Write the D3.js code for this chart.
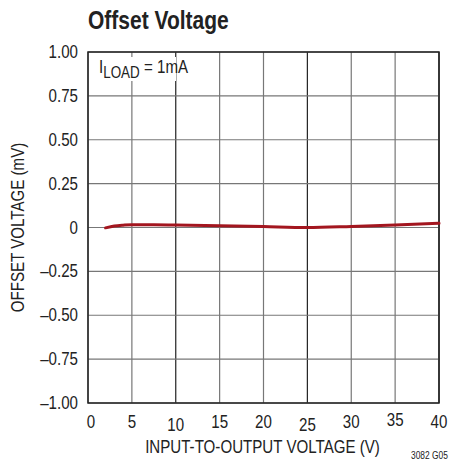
<!DOCTYPE html>
<html>
<head>
<meta charset="utf-8">
<script src="https://cdn.jsdelivr.net/npm/d3@7"></script>
<style>
  body { margin: 0; background: #fff; }
  svg text { font-family: "Liberation Sans", Arial, sans-serif; fill: #222; }
</style>
</head>
<body>
<div id="graphe"></div>
<script>
// données
var tensions = [2, 3, 4, 5, 7.5, 10, 15, 20, 25, 30, 35, 40];
var offsets  = [-0.002, 0.008, 0.013, 0.016, 0.016, 0.014, 0.010, 0.005, 0.0, 0.006, 0.014, 0.024];

var ticksX = [0, 5, 10, 15, 20, 25, 30, 35, 40];
var ticksY = [1, 0.75, 0.5, 0.25, 0, -0.25, -0.5, -0.75, -1];
var labelsY = ["1.00", "0.75", "0.50", "0.25", "0", "\u20130.25", "\u20130.50", "\u20130.75", "\u20131.00"];
// petit décalage vertical des étiquettes, comme sur l'original
var decalX = [0, 0, 3, 0, 0, 3, 0, -2, 0];

var largeurSvg = 452, hauteurSvg = 467;
var marges = {haut: 52, droite: 13, bas: 64, gauche: 88};
var largeur = largeurSvg - marges.gauche - marges.droite,
    hauteur = hauteurSvg - marges.haut - marges.bas;
var etroit = 0.84; // écrasement horizontal du texte (police condensée)

var svg = d3.select("#graphe").append("svg")
    .attr("width", largeurSvg)
    .attr("height", hauteurSvg);

var g = svg.append("g")
    .attr("transform", "translate(" + marges.gauche + "," + marges.haut + ")");

var x = d3.scaleLinear().domain([0, 40]).range([0, largeur]);
var y = d3.scaleLinear().domain([-1, 1]).range([hauteur, 0]);

// place un texte condensé en (px, py)
function place(px, py, rot) {
    return "translate(" + px + "," + py + ")" + (rot ? " rotate(" + rot + ")" : "") + " scale(" + etroit + ",1)";
}

// grille
g.selectAll(".vgrille").data(ticksX).enter().append("line")
    .attr("x1", function(d) { return x(d); })
    .attr("x2", function(d) { return x(d); })
    .attr("y1", 0).attr("y2", hauteur)
    .attr("stroke", function(d) { return (d % 15 === 10) ? "#222" : "#777"; })
    .attr("stroke-width", 1.2);

g.selectAll(".hgrille").data(ticksY).enter().append("line")
    .attr("x1", 0).attr("x2", largeur)
    .attr("y1", function(d) { return y(d); })
    .attr("y2", function(d) { return y(d); })
    .attr("stroke", "#777")
    .attr("stroke-width", 1.2);

// cadre
g.append("rect")
    .attr("width", largeur).attr("height", hauteur)
    .attr("fill", "none").attr("stroke", "#222").attr("stroke-width", 1.5);

// étiquette I_LOAD avec fond blanc
g.append("rect")
    .attr("x", 6).attr("y", 5).attr("width", 82).attr("height", 24)
    .attr("fill", "#fff");
var lab = g.append("text")
    .attr("transform", place(11, 21))
    .style("font-size", "18px");
lab.append("tspan").text("I");
lab.append("tspan").attr("dy", 5).style("font-size", "16px").text("LOAD");
lab.append("tspan").attr("dy", -5).text(" = 1mA");

// courbe
var ligne = d3.line()
    .x(function(d, i) { return x(tensions[i]); })
    .y(function(d) { return y(d); })
    .curve(d3.curveMonotoneX);

g.append("path")
    .datum(offsets)
    .attr("d", ligne)
    .attr("fill", "none")
    .attr("stroke", "#a3161f")
    .attr("stroke-width", 3)
    .attr("stroke-linecap", "round");

// étiquettes des axes
g.selectAll(".tx").data(ticksX).enter().append("text")
    .attr("transform", function(d, i) { return place(x(d) + (d === 0 ? 3 : 0), hauteur + 25 + decalX[i]); })
    .attr("text-anchor", "middle")
    .style("font-size", "18px")
    .text(function(d) { return d; });

g.selectAll(".ty").data(ticksY).enter().append("text")
    .attr("transform", function(d) { return place(-10, y(d) + 6); })
    .attr("text-anchor", "end")
    .style("font-size", "18px")
    .text(function(d, i) { return labelsY[i]; });

// titres
svg.append("text")
    .attr("transform", place(88, 29))
    .style("font-size", "25px").style("font-weight", "bold")
    .text("Offset Voltage");

svg.append("text")
    .attr("transform", place(marges.gauche + largeur / 2 - 1, 453))
    .attr("text-anchor", "middle")
    .style("font-size", "18px")
    .text("INPUT-TO-OUTPUT VOLTAGE (V)");

svg.append("text")
    .attr("transform", "translate(24," + (marges.haut + hauteur / 2) + ") rotate(-90) scale(" + etroit + ",1)")
    .attr("text-anchor", "middle")
    .style("font-size", "18px")
    .text("OFFSET VOLTAGE (mV)");

svg.append("text")
    .attr("transform", place(411, 459))
    .style("font-size", "10px")
    .text("3082 G05");
</script>
</body>
</html>
